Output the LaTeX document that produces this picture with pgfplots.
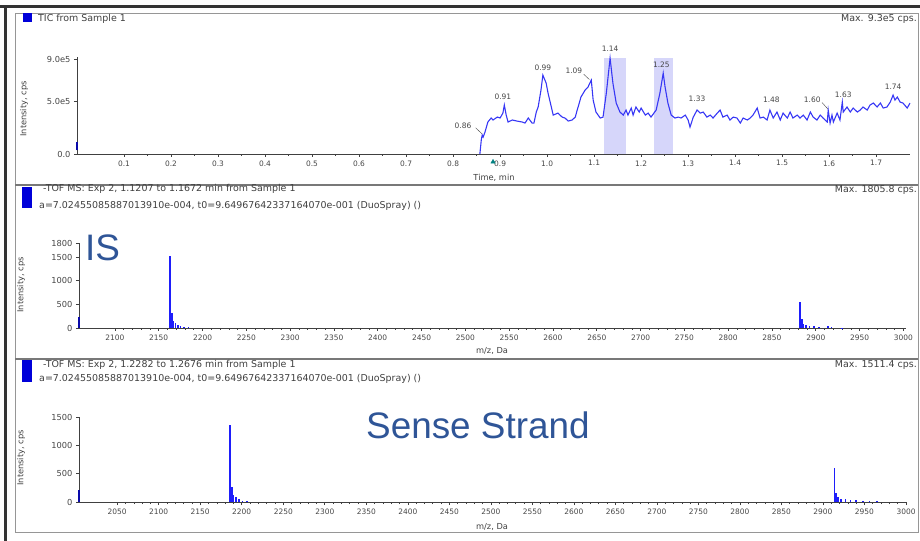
\documentclass[border=0pt]{standalone}
\usepackage{fontspec}
\setmainfont{DejaVu Sans}
\newfontfamily\bigfont{Liberation Sans}
\usepackage{pgfplots}
\pgfplotsset{compat=1.18}

\definecolor{trace}{RGB}{55,55,245}
\definecolor{peakblue}{RGB}{30,30,250}
\definecolor{band}{RGB}{214,214,250}
\definecolor{navyblue}{RGB}{10,10,170}
\definecolor{framec}{RGB}{150,150,150}
\definecolor{bigtext}{RGB}{47,85,151}
\definecolor{txt}{RGB}{70,70,70}

\pgfplotsset{
  msaxis/.style={
    scale only axis, anchor=south west, clip=false,
    axis x line=bottom, axis y line=left,
    axis line style={-, black!75, line width=0.8bp},
    x axis line style={-}, y axis line style={-},
    tick align=outside,
    major tick length=3bp, minor tick length=2bp,
    every tick/.style={black!75, line width=0.6bp},
    tick label style={font=\fontsize{7.5}{8}\selectfont, text=txt},
    yticklabel style={font=\fontsize{8.3}{9}\selectfont},
    /pgf/number format/assume math mode=true,
    /pgf/number format/set thousands separator={},
  },
}
\tikzset{
  lbl/.style={font=\fontsize{7.5}{8}\selectfont, text=txt, inner sep=0pt},
  ttl/.style={font=\fontsize{9.5}{10}\selectfont, text=black!75, inner sep=0pt},
  axl/.style={font=\fontsize{8.3}{9}\selectfont, text=black!75, inner sep=0pt},
}

\begin{document}
\begin{tikzpicture}
\useasboundingbox (0,0) rectangle (920bp,541bp);

% window frames
\draw[framec, line width=1bp] (15bp,8bp) rectangle (918bp,527bp);
\draw[framec!80!black, line width=1.5bp] (15bp,356bp) -- (918bp,356bp);
\draw[framec!80!black, line width=1.5bp] (15bp,182bp) -- (918bp,182bp);
\draw[black!80, line width=3bp] (0,534.5bp) -- (920bp,534.5bp);
\draw[black!80, line width=3bp] (5bp,0) -- (5bp,536bp);

% ---------------- TIC ----------------
\begin{axis}[msaxis,
    at={(77bp,387bp)}, width=833bp, height=97bp,
    xmin=0, xmax=1.772, ymin=0, ymax=9.25,
    xtick={0.1,0.2,0.3,0.4,0.5,0.6,0.7,0.8,0.9,1.0,1.1,1.2,1.3,1.4,1.5,1.6,1.7},
    minor x tick num=1,
    xticklabel style={/pgf/number format/.cd,fixed,fixed zerofill,precision=1},
    ytick={0,5,9}, yticklabels={0.0,5.0e5,9.0e5},
  ]
  % XIC windows
  \addplot[fill=band, draw=none] coordinates {(1.1207,0) (1.1207,9.2) (1.1672,9.2) (1.1672,0)} -- cycle;
  \addplot[fill=band, draw=none] coordinates {(1.2282,0) (1.2282,9.2) (1.2676,9.2) (1.2676,0)} -- cycle;
  \addplot[navyblue, line width=2.5bp] coordinates {(0,0.35) (0,1.15)};
  \addplot[trace, line width=1.1bp] coordinates {
    (0.857,0) (0.860,1.33) (0.862,1.81) (0.864,1.62) (0.868,2.10) (0.874,3.05)
    (0.881,3.43) (0.885,3.24) (0.894,3.52) (0.900,3.43) (0.906,3.90) (0.909,4.67)
    (0.913,3.71) (0.917,3.05) (0.926,3.24) (0.936,3.14) (0.947,3.05) (0.953,2.95)
    (0.960,3.43) (0.968,2.95) (0.972,2.95) (0.977,4.00) (0.981,4.48) (0.987,6.10)
    (0.991,7.52) (0.998,6.76) (1.002,5.81) (1.009,4.48) (1.013,3.71) (1.023,3.90)
    (1.032,3.52) (1.038,3.43) (1.045,3.14) (1.053,3.24) (1.060,3.52) (1.064,4.19)
    (1.066,4.48) (1.072,5.43) (1.081,6.10) (1.087,6.38) (1.094,7.05) (1.098,5.14)
    (1.104,4.00) (1.113,3.43) (1.119,3.52) (1.126,5.81) (1.134,9.14) (1.140,6.76)
    (1.147,4.86) (1.155,4.00) (1.162,3.71) (1.168,4.19) (1.172,3.71) (1.179,4.38)
    (1.183,3.71) (1.189,4.48) (1.196,4.00) (1.200,4.38) (1.209,3.71) (1.215,3.90)
    (1.221,3.52) (1.232,4.19) (1.240,5.81) (1.247,7.71) (1.251,6.38) (1.257,4.86)
    (1.264,3.71) (1.272,3.43) (1.279,3.52) (1.285,3.43) (1.294,3.71) (1.300,3.24)
    (1.304,2.57) (1.311,3.52) (1.319,4.19) (1.326,3.90) (1.332,4.00) (1.340,3.52)
    (1.347,3.71) (1.353,3.43) (1.362,3.90) (1.368,4.19) (1.374,3.52) (1.383,3.71)
    (1.389,3.24) (1.396,3.52) (1.404,3.43) (1.411,2.95) (1.417,3.43) (1.426,3.24)
    (1.432,3.43) (1.438,3.71) (1.447,4.38) (1.453,3.43) (1.460,3.52) (1.468,3.24)
    (1.474,4.19) (1.481,3.43) (1.489,4.00) (1.496,3.24) (1.502,3.90) (1.511,3.43)
    (1.517,4.00) (1.523,3.43) (1.532,3.71) (1.538,3.43) (1.545,3.71) (1.553,3.24)
    (1.560,4.00) (1.566,3.52) (1.574,3.24) (1.581,3.71) (1.587,3.43) (1.596,3.05)
    (1.598,4.19) (1.602,2.95) (1.606,3.71) (1.609,3.05) (1.617,3.90) (1.623,3.24)
    (1.628,4.95) (1.630,4.00) (1.638,4.48) (1.645,4.00) (1.651,4.38) (1.660,4.00)
    (1.666,4.19) (1.672,4.48) (1.681,4.19) (1.687,4.67) (1.694,4.86) (1.702,4.48)
    (1.709,4.86) (1.715,4.38) (1.723,4.48) (1.730,4.95) (1.736,5.62) (1.740,5.14)
    (1.745,5.43) (1.751,4.95) (1.757,4.86) (1.766,4.38) (1.772,4.86)
  };
  \addplot[only marks, mark=triangle*, mark size=2.5bp, color=teal] coordinates {(0.885,-0.75)};
  % peak labels
  \node[lbl] at (axis cs:0.821,2.67) {0.86};
  \draw[txt, line width=0.4bp] (axis cs:0.848,2.5) -- (axis cs:0.862,1.9);
  \node[lbl] at (axis cs:0.906,5.43) {0.91};
  \node[lbl] at (axis cs:0.991,8.19) {0.99};
  \node[lbl] at (axis cs:1.057,7.90) {1.09};
  \draw[txt, line width=0.4bp] (axis cs:1.078,7.6) -- (axis cs:1.090,7.1);
  \node[lbl] at (axis cs:1.134,10.0) {1.14};
  \node[lbl] at (axis cs:1.243,8.48) {1.25};
  \node[lbl] at (axis cs:1.319,5.24) {1.33};
  \node[lbl] at (axis cs:1.477,5.14) {1.48};
  \node[lbl] at (axis cs:1.564,5.14) {1.60};
  \draw[txt, line width=0.4bp] (axis cs:1.585,4.9) -- (axis cs:1.597,4.3);
  \node[lbl] at (axis cs:1.630,5.62) {1.63};
  \node[lbl] at (axis cs:1.736,6.38) {1.74};
\end{axis}

% ---------------- IS spectrum ----------------
\begin{axis}[msaxis,
    at={(79bp,213bp)}, width=827bp, height=85bp,
    xmin=2059, xmax=3003, ymin=0, ymax=1800,
    xtick={2100,2150,...,3000}, minor x tick num=4,
    ytick={0,500,1000,1500,1800},
  ]
  \addplot[ycomb, navyblue, line width=2.5bp] coordinates {(2059,230)};
  \addplot[ycomb, peakblue, line width=1.6bp] coordinates {
    (2163,1530) (2165,320) (2167,140) (2169,100) (2172,70) (2175,50) (2179,25) (2184,12)
    (2882,540) (2884,190) (2886,90) (2889,70) (2893,50) (2898,35) (2904,20)
    (2914,45) (2918,15) (2930,10)
  };
\end{axis}

% ---------------- Sense strand spectrum ----------------
\begin{axis}[msaxis,
    at={(79bp,39bp)}, width=827bp, height=85bp,
    xmin=2004, xmax=3000, ymin=0, ymax=1500,
    xtick={2050,2100,...,3000}, minor x tick num=4,
    ytick={0,500,1000,1500},
  ]
  \addplot[ycomb, navyblue, line width=2.5bp] coordinates {(2004,210)};
  \addplot[ycomb, peakblue, line width=1.6bp] coordinates {
    (2186,1360) (2188,260) (2190,130) (2193,80) (2197,50) (2201,25) (2206,12)
    (2914,600) (2916,160) (2918,90) (2922,60) (2927,45) (2933,35) (2940,30)
    (2948,20) (2956,15) (2965,10)
  };
\end{axis}

% ---------------- panel texts ----------------
\fill[blue!85!black] (23bp,519bp) rectangle (32bp,528bp);
\node[ttl, anchor=west] at (38bp,522bp) {TIC from Sample 1};
\node[ttl, anchor=east] at (917bp,522bp) {Max. 9.3e5 cps.};
\node[axl, rotate=90] at (24bp,432bp) {Intensity, cps};
\node[axl] at (494bp,363bp) {Time, min};

\fill[blue!85!black] (22bp,333bp) rectangle (32bp,354bp);
\node[ttl, anchor=west] at (43bp,352bp) {-TOF MS: Exp 2, 1.1207 to 1.1672 min from Sample 1};
\node[ttl, anchor=west] at (39bp,335bp) {a=7.02455085887013910e-004, t0=9.64967642337164070e-001 (DuoSpray) ()};
\node[ttl, anchor=east] at (917bp,351bp) {Max. 1805.8 cps.};
\node[axl, rotate=90] at (21bp,256bp) {Intensity, cps};
\node[axl] at (492bp,190bp) {m/z, Da};
\node[anchor=west, inner sep=0pt, text=bigtext, font=\bigfont\fontsize{37}{40}\selectfont] at (85bp,293bp) {IS};

\fill[blue!85!black] (22bp,159bp) rectangle (32bp,181bp);
\node[ttl, anchor=west] at (43bp,176bp) {-TOF MS: Exp 2, 1.2282 to 1.2676 min from Sample 1};
\node[ttl, anchor=west] at (39bp,162bp) {a=7.02455085887013910e-004, t0=9.64967642337164070e-001 (DuoSpray) ()};
\node[ttl, anchor=east] at (917bp,176bp) {Max. 1511.4 cps.};
\node[axl, rotate=90] at (21bp,83bp) {Intensity, cps};
\node[axl] at (492bp,14bp) {m/z, Da};
\node[anchor=west, inner sep=0pt, text=bigtext, font=\bigfont\fontsize{37}{40}\selectfont] at (366bp,116bp) {Sense Strand};
\end{tikzpicture}
\end{document}
